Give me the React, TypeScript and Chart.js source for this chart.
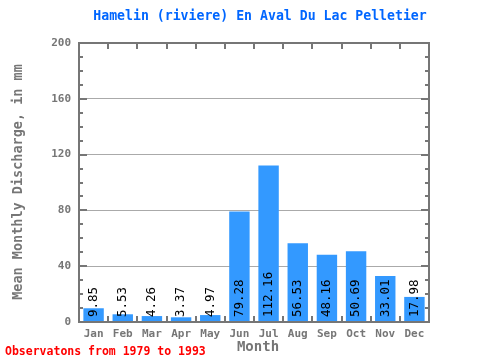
import React, { useEffect, useRef } from "react";
import { Chart, registerables } from "chart.js";

Chart.register(...registerables);

const months = ["Jan", "Feb", "Mar", "Apr", "May", "Jun", "Jul", "Aug", "Sep", "Oct", "Nov", "Dec"];
const discharge = [9.85, 5.53, 4.26, 3.37, 4.97, 79.28, 112.16, 56.53, 48.16, 50.69, 33.01, 17.98];
const valueLabels = ["9.85", "5.53", "4.26", "3.37", "4.97", "79.28", "112.16", "56.53", "48.16", "50.69", "33.01", "17.98"];
const yMax = 200;
const yStep = 40;
const minorStep = 10;

const titleText = "Hamelin (riviere) En Aval Du Lac Pelletier";
const yTitle = "Mean Monthly Discharge, in mm";
const xTitle = "Month";
const footer = "Observatons from 1979 to 1993";

const MONO = "'DejaVu Sans Mono', monospace";
const AXIS = "#767676";

const decorPlugin = {
  id: "decor",
  afterDatasetsDraw(chart: any) {
    const { ctx, chartArea, scales } = chart;
    const { left, right, top, bottom } = chartArea;
    const y = scales.y;
    const x = scales.x;
    ctx.save();
    // value labels
    const meta = chart.getDatasetMeta(0);
    ctx.fillStyle = "#000";
    ctx.font = "12.5px " + MONO;
    ctx.textAlign = "left";
    ctx.textBaseline = "middle";
    meta.data.forEach((bar: any, i: number) => {
      ctx.save();
      ctx.translate(bar.x, bottom - 5);
      ctx.rotate(-Math.PI / 2);
      ctx.fillText(valueLabels[i], 0, 0);
      ctx.restore();
    });
    // frame
    ctx.strokeStyle = AXIS;
    ctx.lineWidth = 2;
    ctx.strokeRect(left, top, right - left, bottom - top);
    // y ticks on both sides
    for (let v = 0; v <= yMax; v += minorStep) {
      const py = Math.round(y.getPixelForValue(v));
      const len = v % yStep === 0 ? 8 : 4;
      ctx.beginPath();
      ctx.moveTo(left, py);
      ctx.lineTo(left + len, py);
      ctx.moveTo(right, py);
      ctx.lineTo(right - len, py);
      ctx.stroke();
    }
    // x ticks at category boundaries
    for (let i = 1; i < months.length; i++) {
      const px = Math.round((x.getPixelForValue(i - 1) + x.getPixelForValue(i)) / 2);
      ctx.beginPath();
      ctx.moveTo(px, top);
      ctx.lineTo(px, top + 6);
      ctx.moveTo(px, bottom);
      ctx.lineTo(px, bottom - 6);
      ctx.stroke();
    }
    // titles
    ctx.fillStyle = "#0066ff";
    ctx.font = "bold 13.2px " + MONO;
    ctx.textAlign = "center";
    ctx.textBaseline = "middle";
    ctx.fillText(titleText, 260, 17);

    ctx.fillStyle = AXIS;
    ctx.font = "bold 14px " + MONO;
    ctx.fillText(xTitle, 258, 347);

    ctx.save();
    ctx.translate(18, 182);
    ctx.rotate(-Math.PI / 2);
    ctx.font = "bold 13.5px " + MONO;
    ctx.fillText(yTitle, 0, 0);
    ctx.restore();

    ctx.fillStyle = "#ff0000";
    ctx.font = "bold 11.5px " + MONO;
    ctx.textAlign = "left";
    ctx.fillText(footer, 5, 352);
    ctx.restore();
  },
};

export default function App() {
  const ref = useRef<HTMLCanvasElement | null>(null);
  useEffect(() => {
    if (!ref.current) return;
    const chart = new Chart(ref.current, {
      type: "bar",
      data: {
        labels: months,
        datasets: [
          {
            data: discharge,
            backgroundColor: "#3399ff",
            borderWidth: 0,
            categoryPercentage: 0.7,
            barPercentage: 1,
          },
        ],
      },
      options: {
        animation: false,
        responsive: false,
        maintainAspectRatio: false,
        layout: { padding: { left: 0, top: 43, right: 51, bottom: 0 } },
        plugins: { legend: { display: false }, title: { display: false }, tooltip: { enabled: false } },
        scales: {
          x: {
            grid: { display: false, drawTicks: false },
            border: { display: false },
            ticks: { color: AXIS, font: { family: MONO, size: 11, weight: "bold" }, padding: 6 },
            afterFit: (s: any) => {
              s.height = 38;
            },
          },
          y: {
            min: 0,
            max: yMax,
            grid: {
              drawTicks: false,
              color: (c: any) => (c.tick && (c.tick.value === 0 || c.tick.value === yMax) ? "rgba(0,0,0,0)" : "#aaaaaa"),
              lineWidth: 1,
            },
            border: { display: false },
            ticks: { stepSize: yStep, color: AXIS, font: { family: MONO, size: 11, weight: "bold" }, padding: 8 },
            afterFit: (s: any) => {
              s.width = 79;
            },
          },
        },
      } as any,
      plugins: [decorPlugin],
    });
    return () => chart.destroy();
  }, []);
  return (
    <div style={{ position: "absolute", left: 0, top: 0, width: 480, height: 360, background: "#fff" }}>
      <canvas ref={ref} width={480} height={360} style={{ display: "block" }} />
    </div>
  );
}
